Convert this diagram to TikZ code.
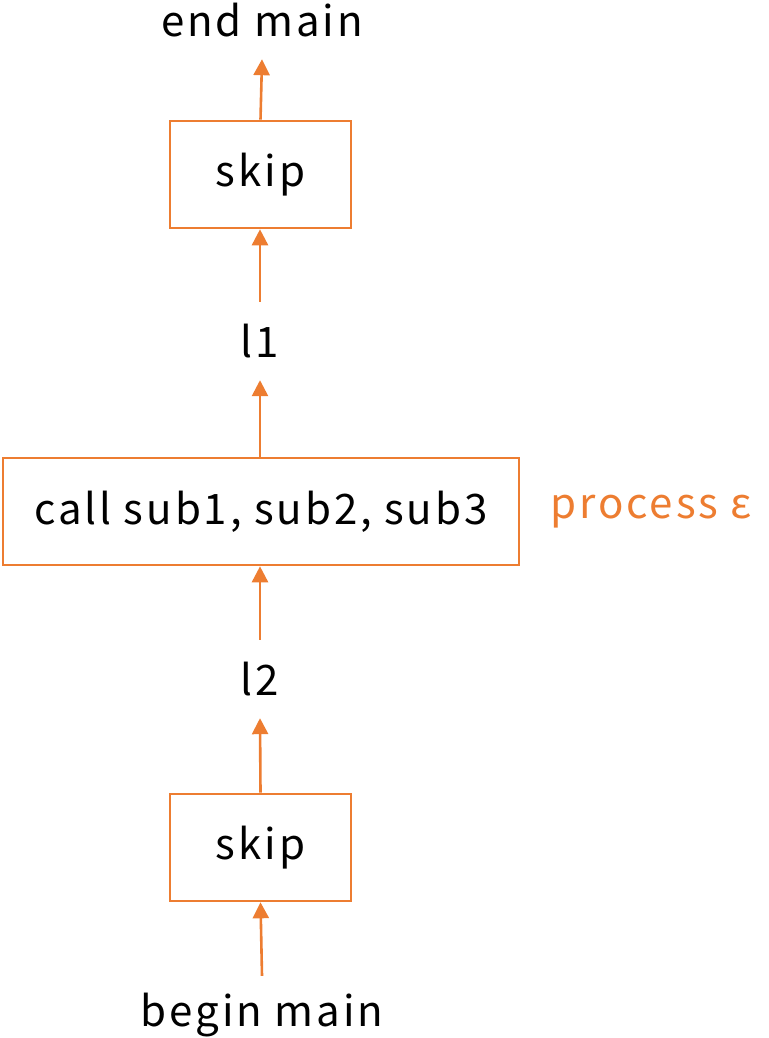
\documentclass[tikz,border=0pt]{standalone}
\usepackage{fontspec}
\setmainfont{Noto Sans CJK JP}[LetterSpace=7]
\usetikzlibrary{arrows.meta}
\definecolor{flow}{HTML}{ED7D31}
\begin{document}
\begin{tikzpicture}[x=1pt,y=1pt,
  every node/.style={font=\fontsize{42}{48}\selectfont, text=black},
  stepbox/.style={draw=flow, line width=2.6pt, inner sep=0pt},
  label/.style={minimum height=78pt, inner sep=0pt},
  flowarrow/.style={draw=flow, line width=2.6pt, -{Triangle[length=16pt,width=16pt]}}]
  \useasboundingbox (0,0) rectangle (768,-1038);
  % nodes
  \node[label] (endmain) at (262,-20) {end main};
  \node[stepbox, minimum width=181pt, minimum height=107pt] (skiptop) at (260.5,-174.5) {skip};
  \node[label] (l1) at (260,-341) {l1};
  \node[stepbox, minimum width=516pt, minimum height=107pt] (call) at (261,-511.5) {call sub1, sub2, sub3};
  \node[text=flow, inner sep=0pt] (proc) at (651,-512) {process ε};
  \node[label] (l2) at (260,-679) {l2};
  \node[stepbox, minimum width=181pt, minimum height=107pt] (skipbot) at (260.5,-847.5) {skip};
  \node[label] (beginmain) at (262,-1015) {begin main};
  % flow arrows
  \draw[flowarrow] (beginmain.north) -- (skipbot.south);
  \draw[flowarrow] (skipbot.north) -- (l2.south);
  \draw[flowarrow] (l2.north) -- (call.south -| l2.north);
  \draw[flowarrow] (call.north -| l1.south) -- (l1.south);
  \draw[flowarrow] (l1.north) -- (skiptop.south -| l1.north);
  \draw[flowarrow] (skiptop.north) -- (endmain.south);
\end{tikzpicture}
\end{document}
